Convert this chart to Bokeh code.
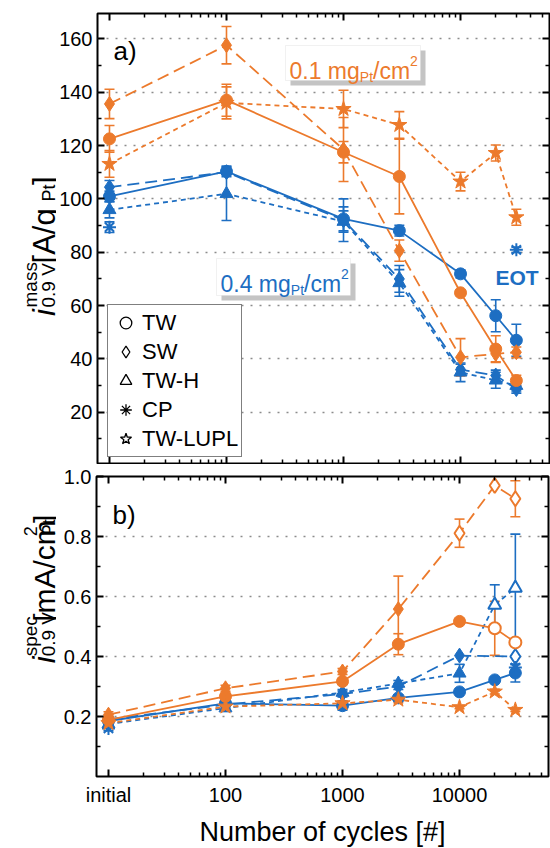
import math
from bokeh.plotting import figure
from bokeh.layouts import column, row
from bokeh.core.properties import value
from bokeh.models import (Range1d, FixedTicker, LogAxis, LinearAxis, Label, Legend, LegendItem,
                          Whisker, TeeHead, ColumnDataSource, BoxAnnotation,
                          CustomJSTickFormatter, PrintfTickFormatter)
from bokeh.embed import file_html
from bokeh.resources import INLINE

# ---------------- data ----------------
cycles = [10, 100, 1000, 3000, 10000, 20000, 30000]      # 10 is plotted as "initial"
cp_cycles = [10, 30000]                                    # CP: initial and EOT
x_tick_values = [10, 100, 1000, 10000]
x_tick_labels = ["initial", "100", "1000", "10000"]
legend_names = ["TW", "SW", "TW-H", "CP", "TW-LUPL"]

# a) mass activity [A/g_Pt]
mass_tw_01 = [122.5, 137.0, 117.5, 108.4, 64.8, 43.7, 31.9]
mass_tw_01_err = [5, 6, 4, 14, 1, 5, 2]
mass_sw_01 = [135.6, 157.6, 118.5, 80.6, 40.6, 41.9, 42.5]
mass_sw_01_err = [5.5, 7, 12, 4, 7, 3, 2]
mass_lupl_01 = [113.1, 136.0, 133.7, 127.7, 106.5, 117.2, 93.1]
mass_lupl_01_err = [5, 6, 7, 5, 3.5, 3, 3]
mass_tw_04 = [100.9, 110.3, 92.5, 88.1, 71.9, 56.2, 47.0]
mass_tw_04_err = [2, 2, 4.5, 2, 1.5, 6, 6]
mass_sw_04 = [104.4, 110.0, 92.0, 70.0, 36.0, 33.8, 28.7]
mass_sw_04_err = [2.5, 1, 8, 5, 2, 2, 1.5]
mass_twh_04 = [95.9, 101.9, 91.5, 68.5, 35.0, 32.0, 30.0]
mass_twh_04_err = [3, 10, 4, 5, 3.5, 3, 2]
mass_cp_04 = [89.4, 80.9]
mass_cp_04_err = [2, 1]

# b) specific activity [mA/cm2_Pt]; *_open marks points drawn with open symbols
spec_tw_01 = [0.189, 0.267, 0.317, 0.441, 0.517, 0.494, 0.447]
spec_tw_01_err = [0.01, 0.01, 0.01, 0.035, 0.008, 0.09, 0.01]
spec_tw_01_open = [0, 0, 0, 0, 0, 1, 1]
spec_sw_01 = [0.206, 0.294, 0.350, 0.558, 0.811, 0.970, 0.926]
spec_sw_01_err = [0.01, 0.01, 0.01, 0.11, 0.047, 0.0, 0.06]
spec_sw_01_open = [0, 0, 0, 0, 1, 1, 1]
spec_lupl_01 = [0.178, 0.233, 0.244, 0.256, 0.231, 0.283, 0.222]
spec_lupl_01_err = [0.01, 0.008, 0.008, 0.01, 0.005, 0.008, 0.005]
spec_tw_04 = [0.185, 0.244, 0.236, 0.262, 0.282, 0.322, 0.345]
spec_tw_04_err = [0.01, 0.01, 0.015, 0.01, 0.005, 0.008, 0.03]
spec_sw_04 = [0.190, 0.240, 0.275, 0.300, 0.403, None, 0.400]
spec_sw_04_err = [0.01, 0.01, 0.01, 0.01, 0.0, 0.0, 0.0]
spec_sw_04_open = [0, 0, 0, 0, 0, 0, 1]
spec_twh_04 = [0.175, 0.228, 0.280, 0.310, 0.344, 0.572, 0.628]
spec_twh_04_err = [0.01, 0.01, 0.01, 0.01, 0.03, 0.067, 0.18]
spec_twh_04_open = [0, 0, 0, 0, 0, 1, 1]
spec_cp_04 = [0.160, 0.363]
spec_cp_04_err = [0.008, 0.01]

# ---------------- style ----------------
FONT = "Liberation Sans"
ORANGE = "#EC7A2C"
BLUE = "#1D6EC2"
X0, X1 = 7.9, 57600.0
YT0, YT1 = 0.8, 169.5
YB0, YB1 = 0.0, 1.0
LW = 56                    # width of the strip holding the rotated y titles
FL, FR = 96, 548           # frame left/right on page
TT, TB = 13, 463           # top frame top/bottom on page
BT, BB = 476, 776          # bottom frame top/bottom on page
TOP_H = TB + 1             # top canvas height
BOT_H = 847 - TOP_H        # bottom canvas height


def fx(px):
    a, b = math.log10(X0), math.log10(X1)
    return 10 ** (a + (px - FL) / (FR - FL) * (b - a))


def fy_top(py):
    return YT1 - (py - TT) / (TB - TT) * (YT1 - YT0)


def fy_bot(py):
    return YB1 - (py - BT) / (BB - BT) * (YB1 - YB0)


CW = {' ': 278, '.': 278, '/': 278, '[': 278, ']': 278, '#': 556, 'A': 667, 'P': 667, 'V': 667,
      'T': 611, 'W': 944, 'E': 667, 'O': 778, 'a': 556, 'c': 500, 'e': 556, 'g': 556, 'i': 222,
      'm': 833, 'p': 556, 's': 500, 't': 278, ')': 333}


def tw(s, size):
    return sum(CW.get(c, 556) for c in s) * size / 1000.0


x_ticker = FixedTicker(ticks=x_tick_values,
                       minor_ticks=[20, 30, 40, 50, 60, 70, 80, 90, 200, 300, 400, 500, 600, 700, 800, 900,
                                    2000, 3000, 4000, 5000, 6000, 7000, 8000, 9000,
                                    20000, 30000, 40000, 50000])


def make_fig(y0, y1, fh, bt, bb, yticks, yminor, yfmt, show_x):
    p = figure(x_axis_type="log", x_range=Range1d(X0, X1), y_range=Range1d(y0, y1),
               frame_width=FR - FL, frame_height=fh, min_border_left=FL - LW,
               min_border_right=550 - FR, min_border_top=bt, min_border_bottom=bb,
               output_backend="svg", toolbar_location=None)
    p.add_layout(LogAxis(), "above")
    p.add_layout(LinearAxis(), "right")
    p.outline_line_color = "black"
    p.outline_line_width = 2
    p.background_fill_color = "white"
    p.border_fill_color = "white"
    p.xgrid.visible = False
    p.ygrid.ticker = FixedTicker(ticks=[t for t in yticks if t < y1 - 1e-9])
    p.ygrid.grid_line_color = "#8c8c8c"
    p.ygrid.grid_line_dash = "2 7"
    p.ygrid.grid_line_width = 1.5
    yt = FixedTicker(ticks=yticks, minor_ticks=yminor)
    for ax in p.xaxis + p.yaxis:
        ax.axis_line_color = None
        ax.major_tick_in = 7
        ax.major_tick_out = 0
        ax.minor_tick_in = 4
        ax.minor_tick_out = 0
        ax.major_tick_line_width = 2
        ax.minor_tick_line_width = 1.5
        ax.major_tick_line_color = "black"
        ax.minor_tick_line_color = "black"
        ax.formatter = CustomJSTickFormatter(code="return '';")
        ax.major_label_text_font_size = "0px"
        ax.major_label_standoff = 0
    for ax in p.xaxis:
        ax.ticker = x_ticker
    for ax in p.yaxis:
        ax.ticker = yt
    left = p.left[0]
    left.formatter = yfmt
    left.major_label_text_font = FONT
    left.major_label_text_font_size = "20px"
    left.major_label_text_color = "black"
    left.major_label_standoff = 5
    if show_x:
        bx = p.below[0]
        bx.formatter = CustomJSTickFormatter(
            args=dict(vals=x_tick_values, labs=x_tick_labels),
            code="const i = vals.indexOf(tick); return i >= 0 ? labs[i] : String(tick);")
        bx.major_label_text_font = FONT
        bx.major_label_text_font_size = "20px"
        bx.major_label_text_color = "black"
        bx.major_label_standoff = 7
        bx.axis_label = "Number of cycles [#]"
        bx.axis_label_text_font = FONT
        bx.axis_label_text_font_size = "27px"
        bx.axis_label_text_font_style = "normal"
        bx.axis_label_text_color = "black"
        bx.axis_label_standoff = 8
    return p


def title_strip(h):
    f = figure(width=LW, height=h, x_range=Range1d(0, LW), y_range=Range1d(0, h),
               min_border=0, x_axis_location=None, y_axis_location=None,
               output_backend="svg", toolbar_location=None)
    f.outline_line_color = None
    f.grid.visible = False
    f.background_fill_color = "white"
    f.border_fill_color = "white"
    return f


def draw_series(p, xs, ys, errs, color, marker, size, dash, open_flags=None, line=True):
    pts = [(x, y, (errs[i] if errs else 0), (open_flags[i] if open_flags else 0))
           for i, (x, y) in enumerate(zip(xs, ys)) if y is not None]
    if line:
        p.line([q[0] for q in pts], [q[1] for q in pts], line_color=color, line_width=1.8,
               line_dash=dash)
    eb = [q for q in pts if q[2] > 0]
    if eb:
        src = ColumnDataSource(dict(base=[q[0] for q in eb], lower=[q[1] - q[2] for q in eb],
                                    upper=[q[1] + q[2] for q in eb]))
        p.add_layout(Whisker(source=src, base="base", lower="lower", upper="upper",
                             line_color=color, line_width=1.6,
                             upper_head=TeeHead(size=10, line_color=color, line_width=1.6),
                             lower_head=TeeHead(size=10, line_color=color, line_width=1.6)))
    filled = [q for q in pts if not q[3]]
    opened = [q for q in pts if q[3]]
    lw_f = 2.0 if marker == "asterisk" else 1.0
    if filled:
        p.scatter([q[0] for q in filled], [q[1] for q in filled], marker=marker, size=size,
                  fill_color=color, line_color=color, line_width=lw_f)
    if opened:
        p.scatter([q[0] for q in opened], [q[1] for q in opened], marker=marker, size=size,
                  fill_color="white", line_color=color, line_width=2.0)


def add_text(p, fyf, px, py, text, size, color, style="normal"):
    p.add_layout(Label(x=fx(px), y=fyf(py), text=text, text_font=FONT,
                       text_font_size=f"{size}px", text_color=color, text_font_style=style,
                       text_align="left", text_baseline="alphabetic"))


def hrun(p, fyf, x0, base, pieces, color):
    cur = x0
    for text, size, dy in pieces:
        add_text(p, fyf, cur, base + dy, text, size, color)
        cur += tw(text, size)


def vrun(p, fyf, bx, y0, groups):
    # rotated (bottom-to-top) title made of normal, superscript and subscript pieces
    cur = y0
    for group, gap in groups:
        adv = 0
        for text, size, dx, style in group:
            p.text(x=[bx + dx], y=[fyf(cur)], text=[text], angle=math.pi / 2,
                   text_font=value(FONT), text_font_size=value(f"{size}px"),
                   text_font_style=style, text_color="black",
                   text_align="left", text_baseline="alphabetic")
            adv = max(adv, tw(text, size))
        cur -= adv + gap


def text_box(p, fyf, left, top, right, bottom):
    p.add_layout(BoxAnnotation(left=fx(left + 5), right=fx(right + 5), top=fyf(top + 5),
                               bottom=fyf(bottom + 5), fill_color="#c4c4c4", fill_alpha=1,
                               line_color=None))
    p.add_layout(BoxAnnotation(left=fx(left), right=fx(right), top=fyf(top), bottom=fyf(bottom),
                               fill_color="white", fill_alpha=1, line_color="#d2d2d2",
                               line_width=1))


# ---------------- top panel ----------------
top = make_fig(YT0, YT1, TB - TT, TT, TOP_H - TB, [20, 40, 60, 80, 100, 120, 140, 160],
               [10, 30, 50, 70, 90, 110, 130, 150, 170], PrintfTickFormatter(format="%d"), False)

draw_series(top, cycles, mass_tw_04, mass_tw_04_err, BLUE, "circle", 12, "solid")
draw_series(top, cycles, mass_sw_04, mass_sw_04_err, BLUE, "diamond", 15, "12 6")
draw_series(top, cycles, mass_twh_04, mass_twh_04_err, BLUE, "triangle", 13, "5 4")
draw_series(top, cp_cycles, mass_cp_04, mass_cp_04_err, BLUE, "asterisk", 13, "solid", line=False)
draw_series(top, cycles, mass_tw_01, mass_tw_01_err, ORANGE, "circle", 12, "solid")
draw_series(top, cycles, mass_sw_01, mass_sw_01_err, ORANGE, "diamond", 15, "12 6")
draw_series(top, cycles, mass_lupl_01, mass_lupl_01_err, ORANGE, "star", 16, "5 4")

items = []
for name, mk in zip(legend_names, ["circle", "diamond", "triangle", "asterisk", "star"]):
    r = top.scatter(x=[cycles[0]], y=[float("nan")], marker=mk, size=14, fill_color=None,
                    line_color="black", line_width=1.3)
    items.append(LegendItem(label=name, renderers=[r]))
leg = Legend(items=items, location=(10, 6), border_line_color="black", border_line_width=1.5,
             background_fill_color="white", background_fill_alpha=1.0,
             label_text_font=FONT, label_text_font_size="22px", label_text_color="black",
             glyph_width=29, glyph_height=29, label_height=29, spacing=0, padding=3, margin=0,
             label_standoff=2)
top.add_layout(leg)

add_text(top, fy_top, 112, 50, "a)", 26, "black")
text_box(top, fy_top, 284, 45, 419, 80)
hrun(top, fy_top, 288, 70, [("0.1 mg", 23, 0), ("Pt", 14, 6), ("/cm", 23, 0), ("2", 14, -10)], ORANGE)
text_box(top, fy_top, 215, 258, 349, 295)
hrun(top, fy_top, 219, 283, [("0.4 mg", 23, 0), ("Pt", 14, 6), ("/cm", 23, 0), ("2", 14, -10)], BLUE)
add_text(top, fy_top, 494, 277, "EOT", 21, BLUE, style="bold")

top_title = title_strip(TOP_H)
vrun(top_title, lambda py: TOP_H - py, 44, 312, [
    ([("i", 31, 0, "italic")], 2),
    ([("mass", 19, -14, "normal"), ("0.9 V", 19, 4, "normal")], 0),
    ([(" [A/g", 31, 0, "normal")], 0),
    ([("Pt", 18, 4, "normal")], 0),
    ([("]", 31, 0, "normal")], 0),
])

# ---------------- bottom panel ----------------
bot = make_fig(YB0, YB1, BB - BT, BT - TOP_H, BOT_H - (BB - TOP_H), [0.2, 0.4, 0.6, 0.8, 1.0],
               [0.1, 0.3, 0.5, 0.7, 0.9], PrintfTickFormatter(format="%.1f"), True)

draw_series(bot, cycles, spec_tw_04, spec_tw_04_err, BLUE, "circle", 12, "solid")
draw_series(bot, cycles, spec_sw_04, spec_sw_04_err, BLUE, "diamond", 15, "12 6", spec_sw_04_open)
draw_series(bot, cycles, spec_twh_04, spec_twh_04_err, BLUE, "triangle", 13, "5 4", spec_twh_04_open)
draw_series(bot, cp_cycles, spec_cp_04, spec_cp_04_err, BLUE, "asterisk", 13, "solid", line=False)
draw_series(bot, cycles, spec_tw_01, spec_tw_01_err, ORANGE, "circle", 12, "solid", spec_tw_01_open)
draw_series(bot, cycles, spec_sw_01, spec_sw_01_err, ORANGE, "diamond", 15, "12 6", spec_sw_01_open)
draw_series(bot, cycles, spec_lupl_01, spec_lupl_01_err, ORANGE, "star", 16, "5 4")

add_text(bot, fy_bot, 112, 514, "b)", 26, "black")

bot_title = title_strip(BOT_H)
vrun(bot_title, lambda py: TOP_H + BOT_H - py, 44, 704, [
    ([("i", 31, 0, "italic")], 2),
    ([("spec", 19, -14, "normal"), ("0.9 V", 19, 4, "normal")], 0),
    ([(" [mA/cm", 30, 0, "normal")], 0),
    ([("2", 18, -14, "normal"), ("Pt", 18, 4, "normal")], 0),
    ([("]", 30, 0, "normal")], 0),
])

layout = column(row(top_title, top, spacing=0), row(bot_title, bot, spacing=0), spacing=0)
open("out.html", "w").write(file_html(layout, INLINE))
